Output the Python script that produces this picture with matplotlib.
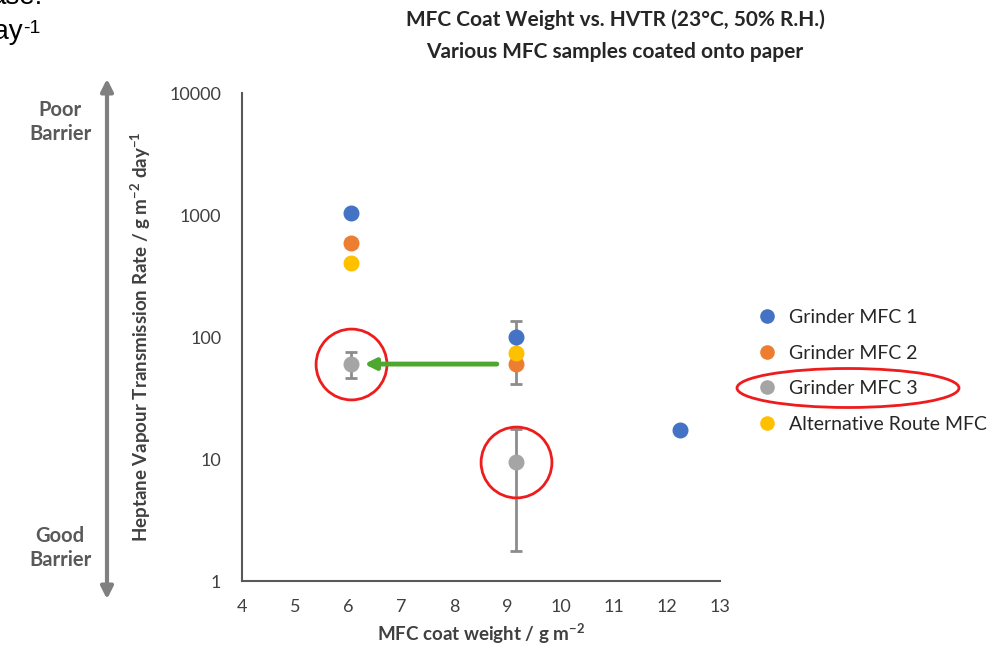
import matplotlib.pyplot as plt
from matplotlib.patches import Ellipse, FancyArrowPatch
from matplotlib.lines import Line2D

# data
g1_x = [6.05, 9.15, 12.25]
g1_y = [1030, 100, 17.4]
g1_lo = [0, 35, 0]
g1_hi = [0, 35, 0]

g2_x = [6.05, 9.15]
g2_y = [590, 60]
g2_lo = [40, 19]
g2_hi = [50, 15]

g3_x = [6.05, 9.15]
g3_y = [60, 9.5]
g3_lo = [14, 7.75]
g3_hi = [16, 8.0]

alt_x = [6.05, 9.15]
alt_y = [404, 74]

labels = ['Grinder MFC 1', 'Grinder MFC 2', 'Grinder MFC 3', 'Alternative Route MFC']
colors = ['#4472C4', '#ED7D31', '#A5A5A5', '#FFC000']
y_ticks = [1, 10, 100, 1000, 10000]
x_ticks = [4, 5, 6, 7, 8, 9, 10, 11, 12, 13]

plt.rcParams['font.family'] = ['Lato', 'DejaVu Sans']
plt.rcParams['mathtext.default'] = 'regular'

W, H = 997, 649
fig = plt.figure(figsize=(W / 100, H / 100), dpi=100)
ax = fig.add_axes([242 / W, 1 - 581 / H, (720 - 242) / W, (581 - 93) / H])

ebar = dict(fmt='o', ms=10.5, ecolor='#8C8C8C', elinewidth=2, capsize=4, capthick=2, zorder=3)
ax.errorbar(g1_x, g1_y, yerr=[g1_lo, g1_hi], color=colors[0], **ebar)
ax.errorbar(g2_x, g2_y, yerr=[g2_lo, g2_hi], color=colors[1], **ebar)
ax.errorbar(g3_x, g3_y, yerr=[g3_lo, g3_hi], color=colors[2], **ebar)
ax.plot(alt_x, alt_y, 'o', ms=10.5, color=colors[3], zorder=4)

ax.set_yscale('log')
ax.set_ylim(1, 10000)
ax.set_xlim(4, 13)
ax.set_yticks(y_ticks)
ax.set_yticklabels([str(v) for v in y_ticks])
ax.minorticks_off()
ax.set_xticks(x_ticks)
ax.tick_params(length=0, labelsize=13, labelcolor='#404040')
ax.tick_params(axis='y', pad=15)
ax.tick_params(axis='x', pad=13)
for s in ['top', 'right']:
    ax.spines[s].set_visible(False)
for s in ['left', 'bottom']:
    ax.spines[s].set_color('#595959')
    ax.spines[s].set_linewidth(1.5)

ax.set_ylabel('Heptane Vapour Transmission Rate / g m$^{-2}$ day$^{-1}$',
              fontsize=13.5, fontweight='bold', color='#404040', labelpad=12)
ax.set_xlabel('MFC coat weight / g m$^{-2}$', fontsize=13.5, fontweight='bold',
              color='#404040', labelpad=5)

fig.text(615 / W, 1 - 20 / H, 'MFC Coat Weight vs. HVTR (23°C, 50% R.H.)',
         ha='center', va='center', fontsize=15, fontweight='bold', color='#262626')
fig.text(615 / W, 1 - 52 / H, 'Various MFC samples coated onto paper',
         ha='center', va='center', fontsize=15, fontweight='bold', color='#262626')

# red highlight circles around Grinder MFC 3 points
ax.plot(g3_x, g3_y, 'o', ms=51, mfc='none', mec='#EE1C1C', mew=2, zorder=5)

# green arrow from 9 to 6
ax.annotate('', xy=(g3_x[0] + 0.2, g3_y[0]), xytext=(g3_x[1] - 0.3, g3_y[0]),
            arrowprops=dict(arrowstyle='-|>', color='#4EA72E', lw=3.5,
                            mutation_scale=16), zorder=6)

handles = [Line2D([], [], ls='none', marker='o', ms=9.5, color=c) for c in colors]
leg = ax.legend(handles, labels, loc='center left', bbox_to_anchor=(740 / W, 1 - 371 / H),
                bbox_transform=fig.transFigure, frameon=False, fontsize=14,
                handlelength=1.0, handletextpad=0.6, labelspacing=0.95)
for t in leg.get_texts():
    t.set_color('#262626')

fig.patches.append(Ellipse((848 / W, 1 - 388 / H), 222 / W, 39 / H,
                           transform=fig.transFigure, fill=False,
                           edgecolor='#EE1C1C', lw=2))

# left-side barrier scale
fig.text(60 / W, 1 - 122 / H, 'Poor\nBarrier', ha='center', va='center',
         fontsize=14.5, fontweight='bold', color='#595959', linespacing=1.2)
fig.text(60 / W, 1 - 548 / H, 'Good\nBarrier', ha='center', va='center',
         fontsize=14.5, fontweight='bold', color='#595959', linespacing=1.2)
fig.patches.append(FancyArrowPatch(
    (107 / W, 1 - 602 / H), (107 / W, 1 - 76 / H), transform=fig.transFigure,
    arrowstyle='<|-|>', mutation_scale=18, color='#808080', lw=3))

# cropped text from the slide at top-left
fig.text(43 / W, 1 - 4 / H, 'ase:', ha='right', va='baseline', fontsize=20,
         family='Liberation Sans', color='black')
fig.text(23 / W, 1 - 39 / H, 'day', ha='right', va='baseline', fontsize=20,
         family='Liberation Sans', color='black')
fig.text(23 / W, 1 - 33 / H, '-1', ha='left', va='baseline', fontsize=14,
         family='Liberation Sans', color='black')

fig.savefig('out.png', dpi=100)
